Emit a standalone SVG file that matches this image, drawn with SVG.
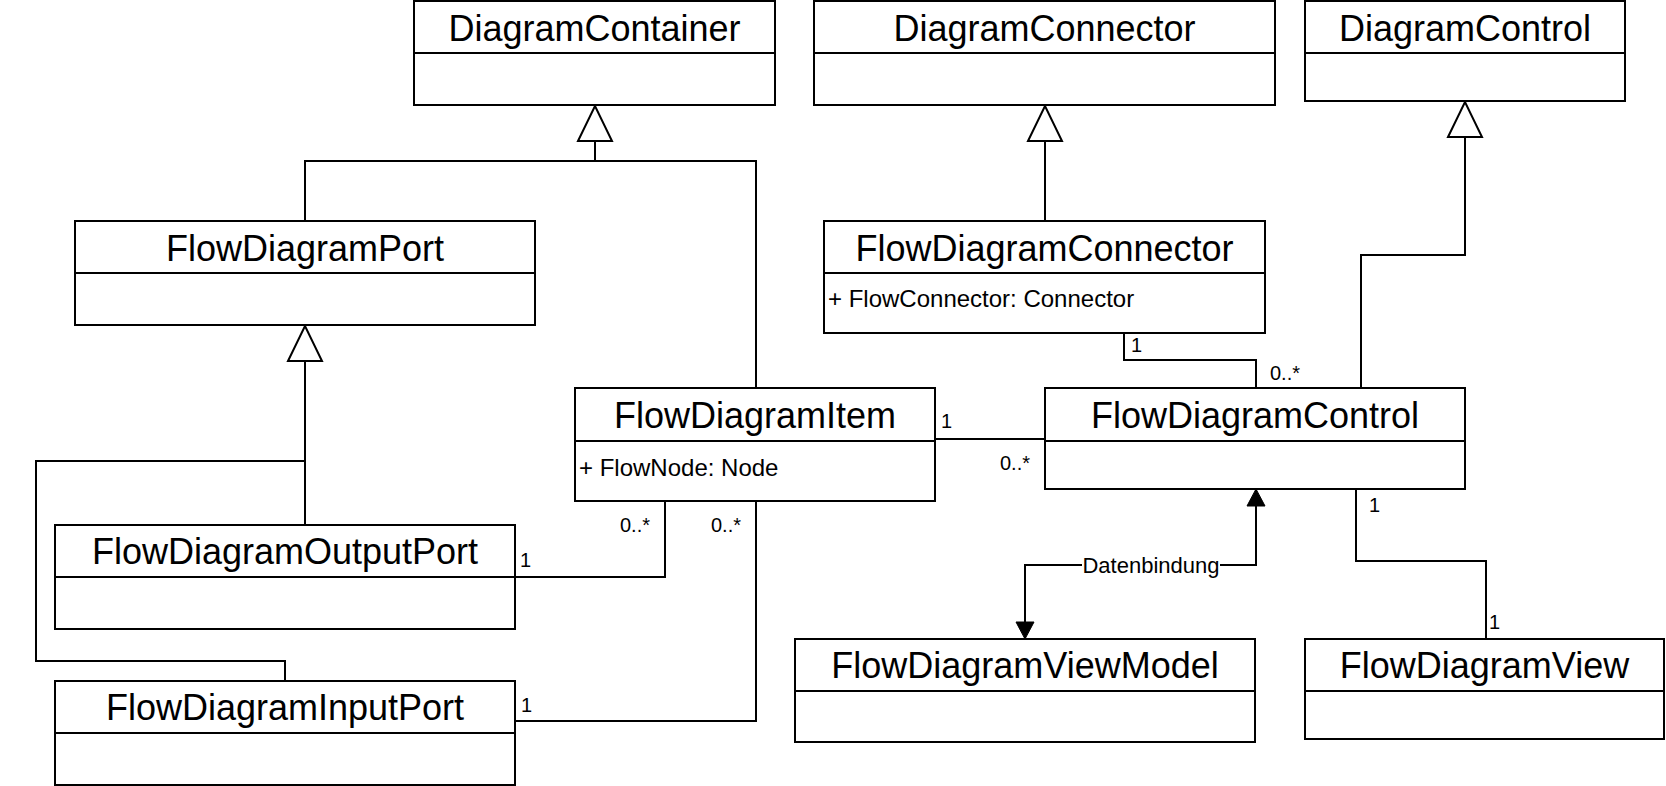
<svg xmlns="http://www.w3.org/2000/svg" width="1666" height="786" viewBox="0 0 1666 786">
<style>
.box{fill:#fff;stroke:#000;stroke-width:2}
.div{stroke:#000;stroke-width:2}
.title{font-family:"Liberation Sans",Arial,sans-serif;font-size:36px;text-anchor:middle;fill:#000}
.attr{font-family:"Liberation Sans",Arial,sans-serif;font-size:24px;fill:#000}
.edge{fill:none;stroke:#000;stroke-width:2}
.mult{font-family:"Liberation Sans",Arial,sans-serif;font-size:20px;fill:#000}
.lbl{font-family:"Liberation Sans",Arial,sans-serif;font-size:22px;text-anchor:middle;fill:#000}
</style>
<defs>
<marker id="gen" viewBox="-2 -2 39 38" refX="35" refY="17" markerWidth="39" markerHeight="38" markerUnits="userSpaceOnUse" orient="auto">
<path d="M0,0 L35,17 L0,34 Z" fill="#fff" stroke="#000" stroke-width="2"/>
</marker>
<marker id="arr" viewBox="-1 -1 19 20" refX="17" refY="9" markerWidth="19" markerHeight="20" markerUnits="userSpaceOnUse" orient="auto-start-reverse">
<path d="M0,0 L17,9 L0,18 Z" fill="#000" stroke="#000" stroke-width="1"/>
</marker>
</defs>
<g id="connectors">
<path class="edge" d="M305,221 V161 H595 V106" marker-end="url(#gen)"/>
<path class="edge" d="M756,388 V161 H595"/>
<path class="edge" d="M1045,221 V106" marker-end="url(#gen)"/>
<path class="edge" d="M1361,388 V255 H1465 V102" marker-end="url(#gen)"/>
<path class="edge" d="M305,525 V326" marker-end="url(#gen)"/>
<path class="edge" d="M285,681 V661 H36 V461 H305"/>
<path class="edge" d="M665,501 V577 H515"/>
<text class="mult" x="620" y="532">0..*</text>
<text class="mult" x="520" y="567">1</text>
<path class="edge" d="M756,501 V721 H515"/>
<text class="mult" x="711" y="532">0..*</text>
<text class="mult" x="521" y="712">1</text>
<path class="edge" d="M935,439 H1045"/>
<text class="mult" x="941" y="428">1</text>
<text class="mult" x="1000" y="470">0..*</text>
<path class="edge" d="M1124,333 V360 H1256 V388"/>
<text class="mult" x="1131" y="352">1</text>
<text class="mult" x="1270" y="380">0..*</text>
<path class="edge" d="M1356,489 V561 H1486 V639"/>
<text class="mult" x="1369" y="512">1</text>
<text class="mult" x="1489" y="629">1</text>
<path class="edge" d="M1256,489 V565 H1025 V639" marker-start="url(#arr)" marker-end="url(#arr)"/>
<rect x="1082" y="553" width="138" height="24" fill="#fff"/>
<text class="lbl" x="1151" y="573">Datenbindung</text>
</g>
<g id="DiagramContainer">
<rect class="box" x="414" y="1" width="361" height="104"/>
<line class="div" x1="414" y1="53" x2="775" y2="53"/>
<text class="title" x="594.5" y="41">DiagramContainer</text>
</g>
<g id="DiagramConnector">
<rect class="box" x="814" y="1" width="461" height="104"/>
<line class="div" x1="814" y1="53" x2="1275" y2="53"/>
<text class="title" x="1044.5" y="41">DiagramConnector</text>
</g>
<g id="DiagramControl">
<rect class="box" x="1305" y="1" width="320" height="100"/>
<line class="div" x1="1305" y1="53" x2="1625" y2="53"/>
<text class="title" x="1465" y="41">DiagramControl</text>
</g>
<g id="FlowDiagramPort">
<rect class="box" x="75" y="221" width="460" height="104"/>
<line class="div" x1="75" y1="273" x2="535" y2="273"/>
<text class="title" x="305" y="261">FlowDiagramPort</text>
</g>
<g id="FlowDiagramConnector">
<rect class="box" x="824" y="221" width="441" height="112"/>
<line class="div" x1="824" y1="273" x2="1265" y2="273"/>
<text class="title" x="1044.5" y="261">FlowDiagramConnector</text>
<text class="attr" x="828" y="307">+ FlowConnector: Connector</text>
</g>
<g id="FlowDiagramItem">
<rect class="box" x="575" y="388" width="360" height="113"/>
<line class="div" x1="575" y1="441" x2="935" y2="441"/>
<text class="title" x="755" y="428">FlowDiagramItem</text>
<text class="attr" x="579" y="476">+ FlowNode: Node</text>
</g>
<g id="FlowDiagramControl">
<rect class="box" x="1045" y="388" width="420" height="101"/>
<line class="div" x1="1045" y1="441" x2="1465" y2="441"/>
<text class="title" x="1255" y="428">FlowDiagramControl</text>
</g>
<g id="FlowDiagramOutputPort">
<rect class="box" x="55" y="525" width="460" height="104"/>
<line class="div" x1="55" y1="577" x2="515" y2="577"/>
<text class="title" x="285" y="564">FlowDiagramOutputPort</text>
</g>
<g id="FlowDiagramInputPort">
<rect class="box" x="55" y="681" width="460" height="104"/>
<line class="div" x1="55" y1="733" x2="515" y2="733"/>
<text class="title" x="285" y="720">FlowDiagramInputPort</text>
</g>
<g id="FlowDiagramViewModel">
<rect class="box" x="795" y="639" width="460" height="103"/>
<line class="div" x1="795" y1="691" x2="1255" y2="691"/>
<text class="title" x="1025" y="678">FlowDiagramViewModel</text>
</g>
<g id="FlowDiagramView">
<rect class="box" x="1305" y="639" width="359" height="100"/>
<line class="div" x1="1305" y1="691" x2="1664" y2="691"/>
<text class="title" x="1484.5" y="678">FlowDiagramView</text>
</g>
</svg>
